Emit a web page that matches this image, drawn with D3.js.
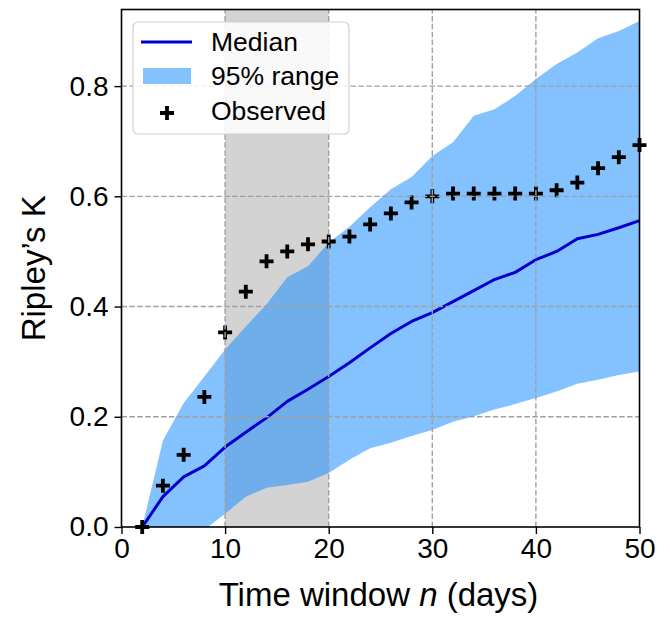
<!DOCTYPE html>
<html>
<head>
<meta charset="utf-8">
<script src="https://cdn.jsdelivr.net/npm/d3@7"></script>
<style>
  body { margin: 0; background: #fff; }
  text { font-family: "Liberation Sans", Arial, sans-serif; fill: #000; }
</style>
</head>
<body>
<svg id="chart" width="670" height="617"></svg>
<script>
// time windows (days)
const windows = [2, 4, 6, 8, 10, 12, 14, 16, 18, 20, 22, 24, 26, 28, 30, 32, 34, 36, 38, 40, 42, 44, 46, 48, 50];
const median = [0, 0.055, 0.091, 0.111, 0.145, 0.172, 0.198, 0.228, 0.25, 0.273, 0.298, 0.325, 0.351, 0.373, 0.389,
    0.409, 0.429, 0.449, 0.462, 0.485, 0.5, 0.523, 0.531, 0.543, 0.556];
const upper = [0, 0.157, 0.225, 0.273, 0.322, 0.364, 0.404, 0.453, 0.473, 0.516, 0.545, 0.58, 0.613, 0.635, 0.673,
    0.698, 0.746, 0.758, 0.782, 0.813, 0.84, 0.861, 0.887, 0.9, 0.918];
const lower = [0, -0.06, -0.04, -0.005, 0.024, 0.055, 0.071, 0.076, 0.082, 0.098, 0.122, 0.143, 0.153, 0.165, 0.176,
    0.191, 0.201, 0.213, 0.223, 0.234, 0.246, 0.26, 0.267, 0.276, 0.282];
const observed = [0, 0.075, 0.131, 0.236, 0.353, 0.427, 0.482, 0.5, 0.513, 0.518, 0.527, 0.549, 0.569, 0.589, 0.6,
    0.605, 0.605, 0.605, 0.605, 0.605, 0.611, 0.625, 0.651, 0.671, 0.693];
const span = [10, 20];
const xTicks = [0, 10, 20, 30, 40, 50];
const yTicks = [0, 0.2, 0.4, 0.6, 0.8];
const legendItems = ["Median", "95% range", "Observed"];

const margin = ({top: 9.5, right: 30.5, bottom: 90, left: 121.5});
const width = 670, height = 617;

const svg = d3.select("#chart");

const x = d3.scaleLinear()
    .domain([0, 50])
    .range([margin.left, width - margin.right]);

const y = d3.scaleLinear()
    .domain([0, 0.939])
    .range([height - margin.bottom, margin.top]);

const data = windows.map((w, i) => ({w, med: median[i], hi: upper[i], lo: lower[i], obs: observed[i]}));

svg.append("defs").append("clipPath").attr("id", "plot-clip")
  .append("rect")
    .attr("x", x(0)).attr("y", y(0.939))
    .attr("width", x(50) - x(0)).attr("height", y(0) - y(0.939));

const plot = svg.append("g").attr("clip-path", "url(#plot-clip)");

// shaded window
plot.append("rect")
    .attr("x", x(span[0]))
    .attr("width", x(span[1]) - x(span[0]))
    .attr("y", y(0.939))
    .attr("height", y(0) - y(0.939))
    .attr("fill", "#d3d3d3");

// 95% range band
const area = d3.area()
    .x(d => x(d.w))
    .y0(d => y(d.lo))
    .y1(d => y(d.hi));

plot.append("path")
    .attr("d", area(data))
    .attr("fill", "#1e90ff")
    .attr("fill-opacity", 0.55);

// median line
const lineGenerator = d3.line()
    .x(d => x(d.w))
    .y(d => y(d.med));

plot.append("path")
    .attr("d", lineGenerator(data))
    .attr("fill", "none")
    .attr("stroke", "#0000cd")
    .attr("stroke-width", 3)
    .attr("stroke-linejoin", "round");

// observed crosses
const plus = s => `M${-s},0H${s}M0,${-s}V${s}`;
svg.append("g")
    .selectAll("path")
    .data(data)
    .join("path")
    .attr("transform", d => `translate(${x(d.w)},${y(d.obs)})`)
    .attr("d", plus(7))
    .attr("stroke", "#000")
    .attr("stroke-width", 3.8)
    .attr("fill", "none");

// grid
const grid = svg.append("g")
    .attr("stroke", "#a0a0a0")
    .attr("stroke-width", 1.4)
    .attr("stroke-dasharray", "5.5,2.4");

grid.selectAll(".gx")
    .data(xTicks.filter(d => d > 0 && d < 50))
    .join("line")
    .attr("x1", d => x(d)).attr("x2", d => x(d))
    .attr("y1", y(0)).attr("y2", y(0.939));

grid.selectAll(".gy")
    .data(yTicks.filter(d => d > 0))
    .join("line")
    .attr("y1", d => y(d)).attr("y2", d => y(d))
    .attr("x1", x(0)).attr("x2", x(50));

// axes
const xAxis = g => g
    .attr("transform", `translate(0,${y(0)})`)
    .call(d3.axisBottom(x).tickValues(xTicks).tickSize(7).tickPadding(4).tickFormat(d3.format("d")))
    .call(g => g.select(".domain").remove())
    .call(g => g.selectAll(".tick line").attr("stroke-width", 1.4))
    .call(g => g.selectAll(".tick text").attr("font-size", 28).attr("font-family", "Liberation Sans"));

const yAxis = g => g
    .attr("transform", `translate(${x(0)},0)`)
    .call(d3.axisLeft(y).tickValues(yTicks).tickSize(7).tickPadding(6).tickFormat(d3.format(".1f")))
    .call(g => g.select(".domain").remove())
    .call(g => g.selectAll(".tick line").attr("stroke-width", 1.4))
    .call(g => g.selectAll(".tick text").attr("font-size", 28).attr("font-family", "Liberation Sans"));

svg.append("g").call(xAxis);
svg.append("g").call(yAxis);

// frame
svg.append("rect")
    .attr("x", x(0)).attr("y", y(0.939))
    .attr("width", x(50) - x(0)).attr("height", y(0) - y(0.939))
    .attr("fill", "none")
    .attr("stroke", "#000")
    .attr("stroke-width", 1.6);

// axis labels
const xl = svg.append("text")
    .attr("x", (x(0) + x(50)) / 2 - 2)
    .attr("y", 606)
    .attr("text-anchor", "middle")
    .attr("font-size", 33);
xl.append("tspan").text("Time window ");
xl.append("tspan").attr("font-style", "italic").text("n");
xl.append("tspan").text(" (days)");

svg.append("text")
    .attr("transform", `translate(45,${(y(0) + y(0.939)) / 2}) rotate(-90)`)
    .attr("text-anchor", "middle")
    .attr("font-size", 33)
    .text("Ripley\u2019s K");

// legend
const legend = svg.append("g").attr("transform", "translate(133,22)");
legend.append("rect")
    .attr("width", 216).attr("height", 112)
    .attr("rx", 5)
    .attr("fill", "#fff").attr("fill-opacity", 0.85)
    .attr("stroke", "#d0d0d0").attr("stroke-width", 1.2);

const rowY = [20, 54, 89];
legend.append("line")
    .attr("x1", 8).attr("x2", 59).attr("y1", rowY[0]).attr("y2", rowY[0])
    .attr("stroke", "#0000cd").attr("stroke-width", 3);
legend.append("rect")
    .attr("x", 10).attr("y", rowY[1] - 8).attr("width", 48).attr("height", 16)
    .attr("fill", "#1e90ff").attr("fill-opacity", 0.55);
legend.append("path")
    .attr("transform", `translate(34,${rowY[2] + 2})`)
    .attr("d", plus(7))
    .attr("stroke", "#000").attr("stroke-width", 3.8);

legend.selectAll(".lt")
    .data(legendItems)
    .join("text")
    .attr("x", 78)
    .attr("y", (d, i) => rowY[i])
    .attr("dy", "0.35em")
    .attr("font-size", 26.5)
    .text(d => d);
</script>
</body>
</html>
